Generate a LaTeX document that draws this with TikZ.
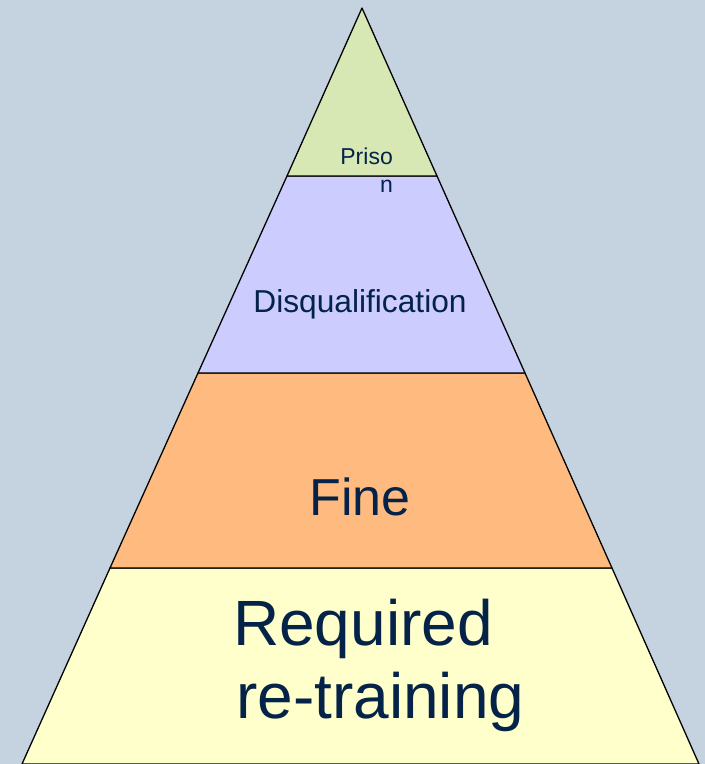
\documentclass[tikz,border=0pt]{standalone}
\usepackage{fontspec}
\setmainfont{Liberation Sans}
\definecolor{bgc}{RGB}{197,211,224}
\definecolor{topc}{RGB}{215,232,181}
\definecolor{disc}{RGB}{204,204,255}
\definecolor{finec}{RGB}{255,187,127}
\definecolor{reqc}{RGB}{255,255,204}
\definecolor{txt}{RGB}{5,35,72}
\tikzset{
  layer/.style={draw=black, line width=1.3pt, line join=round},
  lbl/.style={inner sep=0pt, text=txt},
}
\begin{document}
\begin{tikzpicture}[x=1pt,y=-1pt]
\useasboundingbox (0,0) rectangle (705,764);
\fill[bgc] (0,0) rectangle (705,764);
\coordinate (apex) at (362,8);
\coordinate (l1) at (287,176); \coordinate (r1) at (437,176);
\coordinate (l2) at (198,373); \coordinate (r2) at (525,373);
\coordinate (l3) at (110,568); \coordinate (r3) at (612,568);
\coordinate (l4) at (22,764); \coordinate (r4) at (699,764);
\draw[layer, fill=reqc] (l3) -- (r3) -- (r4) -- (l4) -- cycle;
\draw[layer, fill=finec] (l2) -- (r2) -- (r3) -- (l3) -- cycle;
\draw[layer, fill=disc] (l1) -- (r1) -- (r2) -- (l2) -- cycle;
\draw[layer, fill=topc] (apex) -- (r1) -- (l1) -- cycle;
\node[lbl, anchor=base east, font=\fontsize{23}{28}\selectfont] (p1) at (393,164) {Priso};
\node[lbl, anchor=base east, font=\fontsize{23}{28}\selectfont] (p2) at (393,192) {n};
\node[lbl, anchor=base, font=\fontsize{31.7}{38}\selectfont] (dq) at (360,312) {Disqualification};
\node[lbl, anchor=base, font=\fontsize{52}{60}\selectfont] (fine) at (360,515) {Fine};
\node[lbl, anchor=base west, font=\fontsize{64}{74}\selectfont] (rq1) at (233,645) {Required};
\node[lbl, anchor=base west, font=\fontsize{64}{74}\selectfont] (rq2) at (236,718) {re-training};
\end{tikzpicture}
\end{document}
